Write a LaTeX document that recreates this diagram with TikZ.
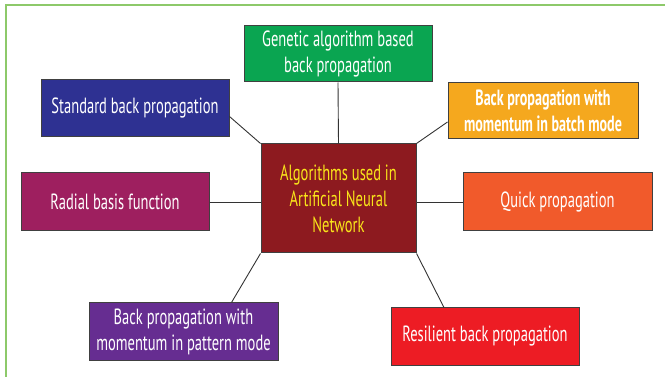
\documentclass[tikz,border=0pt]{standalone}
\usepackage{fontspec}
\setmainfont{PT Sans}[FakeStretch=0.66,BoldFeatures={FakeStretch=0.64}]
\usetikzlibrary{calc,positioning}
\definecolor{framegreen}{HTML}{8DC96A}
\definecolor{gagreen}{HTML}{0AA551}
\definecolor{stdblue}{HTML}{2E3192}
\definecolor{batchorange}{HTML}{F5A81E}
\definecolor{rbfpurple}{HTML}{9E1F5F}
\definecolor{quickorange}{HTML}{F15A2B}
\definecolor{patviolet}{HTML}{662D91}
\definecolor{resred}{HTML}{ED1C24}
\definecolor{annred}{HTML}{8D1A1F}
\definecolor{annyellow}{HTML}{F9E51A}

\begin{document}
\begin{tikzpicture}[x=1pt,y=-1pt,
algo/.style={draw=black!75,line width=1pt,text=white,align=center,inner sep=0pt,minimum width=188pt,minimum height=57pt,font=\fontsize{22}{26}\selectfont},
link/.style={draw=black!80,line width=0.9pt}]
\useasboundingbox (0,0) rectangle (665,377);
\draw[framegreen,line width=1.3pt] (6,377) -- (6,5) -- (665,5);
\node[algo,fill=annred,text=annyellow,minimum width=155pt,minimum height=109pt] (ann) at (338.5,198.5) {Algorithms used in\\Artificial Neural\\Network};
\node[algo,fill=gagreen,minimum height=56pt] (ga) at (338,54) {Genetic algorithm based\\back propagation};
\node[algo,fill=stdblue] (std) at (135,108.5) {Standard back propagation};
\node[algo,fill=batchorange,minimum width=190pt,minimum height=56pt,font=\fontsize{22}{26}\selectfont\bfseries] (batch) at (543,111) {Back propagation with\\momentum in batch mode};
\node[algo,fill=rbfpurple,minimum height=58pt] (rbf) at (115,202) {Radial basis function};
\node[algo,fill=quickorange,minimum width=189pt,minimum height=58pt] (quick) at (557.5,202) {Quick propagation};
\node[algo,fill=patviolet,minimum width=189pt] (pat) at (183.5,331.5) {Back propagation with\\momentum in pattern mode};
\node[algo,fill=resred] (res) at (485,336.5) {Resilient back propagation};
\draw[link] ([yshift=-8pt]std.east) -- (ann.north west);
\draw[link] (ga.south) -- (ann.north);
\draw[link] ([yshift=-11pt]batch.west) -- (ann.north east);
\draw[link] (rbf.east) -- (rbf.east -| ann.west);
\draw[link] (quick.west) -- (quick.west -| ann.east);
\draw[link] (ann.south west) -- ([xshift=48pt]pat.north);
\draw[link] (ann.south east) -- ([xshift=-41pt]res.north);
\end{tikzpicture}
\end{document}
